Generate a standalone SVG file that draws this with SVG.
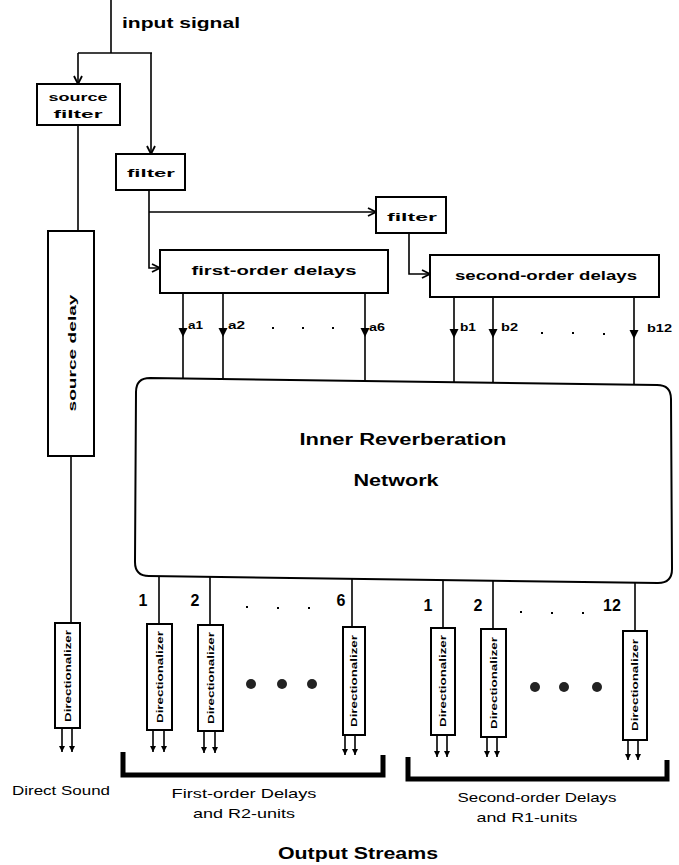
<svg xmlns="http://www.w3.org/2000/svg" width="679" height="865" viewBox="0 0 679 865">
<style>
.box{fill:#fff;stroke:#000;stroke-width:2}
.ln{fill:none;stroke:#000;stroke-width:1.6}
.t{font-family:"Liberation Sans",Arial,sans-serif;font-weight:bold;fill:#000}
.n{font-family:"Liberation Sans",Arial,sans-serif;fill:#000}
.br{fill:none;stroke:#000;stroke-width:5}
.dot{fill:#000}
.big{fill:#222}
</style>
<defs>
<marker id="chev" viewBox="0 0 10 10" refX="9" refY="5" markerWidth="10" markerHeight="10" markerUnits="userSpaceOnUse" orient="auto">
<path d="M1,1 L9,5 L1,9" fill="none" stroke="#000" stroke-width="1.8"/>
</marker>
<marker id="tri" viewBox="0 0 10 10" refX="10" refY="5" markerWidth="9" markerHeight="11" markerUnits="userSpaceOnUse" orient="auto">
<path d="M0,0 L10,5 L0,10 Z" fill="#000"/>
</marker>
<marker id="sm" viewBox="0 0 10 10" refX="10" refY="5" markerWidth="6" markerHeight="6" markerUnits="userSpaceOnUse" orient="auto">
<path d="M0,0 L10,5 L0,10 Z" fill="#000"/>
</marker>
</defs>

<g id="connectors">
<path class="ln" d="M111,0 L111,53"/>
<path class="ln" d="M78,53 L152,53"/>
<path class="ln" d="M78,53 L78,84" marker-end="url(#chev)"/>
<path class="ln" d="M151,53 L151,154" marker-end="url(#chev)"/>
<path class="ln" d="M78,125 L78,231"/>
<path class="ln" d="M71,456 L71,623"/>
<path class="ln" d="M149,190 L149,268 L160,268" marker-end="url(#chev)"/>
<path class="ln" d="M149,212 L376,212" marker-end="url(#chev)"/>
<path class="ln" d="M409,233 L409,274 L430,274" marker-end="url(#chev)"/>
<path class="ln" d="M183,291 L183,337 L183,379" marker-mid="url(#tri)"/>
<path class="ln" d="M223,291 L223,337 L223,379" marker-mid="url(#tri)"/>
<path class="ln" d="M365,293 L365,337 L365,381" marker-mid="url(#tri)"/>
<path class="ln" d="M454,297 L454,338 L454,382" marker-mid="url(#tri)"/>
<path class="ln" d="M493,297 L493,338 L493,383" marker-mid="url(#tri)"/>
<path class="ln" d="M634,297 L634,339 L634,385" marker-mid="url(#tri)"/>
<path class="ln" d="M159,576 L159,624"/>
<path class="ln" d="M210,577 L210,625"/>
<path class="ln" d="M352,579 L352,627"/>
<path class="ln" d="M443,580 L443,628"/>
<path class="ln" d="M493,581 L493,629"/>
<path class="ln" d="M635,583 L635,631"/>
<path class="ln" d="M62,728 L62,752" marker-end="url(#sm)"/>
<path class="ln" d="M72,728 L72,752" marker-end="url(#sm)"/>
<path class="ln" d="M153,730 L153,752" marker-end="url(#sm)"/>
<path class="ln" d="M164,730 L164,752" marker-end="url(#sm)"/>
<path class="ln" d="M204,731 L204,753" marker-end="url(#sm)"/>
<path class="ln" d="M215,731 L215,753" marker-end="url(#sm)"/>
<path class="ln" d="M345,735 L345,755" marker-end="url(#sm)"/>
<path class="ln" d="M355,735 L355,755" marker-end="url(#sm)"/>
<path class="ln" d="M437,735 L437,757" marker-end="url(#sm)"/>
<path class="ln" d="M447,735 L447,757" marker-end="url(#sm)"/>
<path class="ln" d="M487,737 L487,757" marker-end="url(#sm)"/>
<path class="ln" d="M497,737 L497,757" marker-end="url(#sm)"/>
<path class="ln" d="M628,740 L628,760" marker-end="url(#sm)"/>
<path class="ln" d="M638,740 L638,760" marker-end="url(#sm)"/>
</g>

<text class="t" x="122" y="28" font-size="15" textLength="118" lengthAdjust="spacingAndGlyphs">input signal</text>

<g id="source-filter">
<rect class="box" x="37" y="84" width="83" height="41"/>
<text class="t" x="78" y="101" font-size="11" text-anchor="middle" textLength="59" lengthAdjust="spacingAndGlyphs">source</text>
<text class="t" x="78" y="118" font-size="11" text-anchor="middle" textLength="49" lengthAdjust="spacingAndGlyphs">filter</text>
</g>

<g id="filter1">
<rect class="box" x="116" y="154" width="69" height="36"/>
<text class="t" x="151" y="177" font-size="11" text-anchor="middle" textLength="48" lengthAdjust="spacingAndGlyphs">filter</text>
</g>

<g id="filter2">
<rect class="box" x="376" y="197" width="70" height="36"/>
<text class="t" x="412" y="221" font-size="11" text-anchor="middle" textLength="50" lengthAdjust="spacingAndGlyphs">filter</text>
</g>

<g id="source-delay">
<rect class="box" x="48" y="231" width="46" height="225"/>
<text class="t" transform="translate(76,353) rotate(-90)" x="0" y="0" font-size="11" text-anchor="middle" textLength="117" lengthAdjust="spacingAndGlyphs">source delay</text>
</g>

<g id="first-order-delays">
<rect class="box" x="160" y="250" width="228" height="43"/>
<text class="t" x="274" y="275" font-size="12" text-anchor="middle" textLength="165" lengthAdjust="spacingAndGlyphs">first-order delays</text>
</g>

<g id="second-order-delays">
<rect class="box" x="430" y="255" width="229" height="42"/>
<text class="t" x="546" y="280" font-size="12" text-anchor="middle" textLength="182" lengthAdjust="spacingAndGlyphs">second-order delays</text>
</g>

<g id="tap-labels">
<text class="t" x="188" y="329" font-size="11" textLength="15" lengthAdjust="spacingAndGlyphs">a1</text>
<text class="t" x="228" y="329" font-size="11" textLength="17" lengthAdjust="spacingAndGlyphs">a2</text>
<text class="t" x="369" y="331" font-size="11" textLength="16" lengthAdjust="spacingAndGlyphs">a6</text>
<text class="t" x="460" y="331" font-size="11" textLength="16" lengthAdjust="spacingAndGlyphs">b1</text>
<text class="t" x="501" y="331" font-size="11" textLength="17" lengthAdjust="spacingAndGlyphs">b2</text>
<text class="t" x="647" y="332" font-size="11" textLength="25" lengthAdjust="spacingAndGlyphs">b12</text>
<rect class="dot" x="272" y="327" width="2" height="2"/>
<rect class="dot" x="302" y="327" width="2" height="2"/>
<rect class="dot" x="332" y="327" width="2" height="2"/>
<rect class="dot" x="541" y="332" width="2" height="2"/>
<rect class="dot" x="572" y="332" width="2" height="2"/>
<rect class="dot" x="603" y="333" width="2" height="2"/>
</g>

<g id="inner-reverberation-network">
<path class="box" d="M150,378 L657,385 Q671,385 671,399 L672,569 Q672,583 658,583 L149,576 Q135,576 135,562 L136,392 Q136,378 150,378 Z"/>
<text class="t" x="403" y="445" font-size="16" text-anchor="middle" textLength="207" lengthAdjust="spacingAndGlyphs">Inner Reverberation</text>
<text class="t" x="396" y="486" font-size="16" text-anchor="middle" textLength="85" lengthAdjust="spacingAndGlyphs">Network</text>
</g>

<g id="output-numbers">
<text class="t" x="143" y="606" font-size="16" text-anchor="middle">1</text>
<text class="t" x="195" y="606" font-size="16" text-anchor="middle">2</text>
<text class="t" x="341" y="606" font-size="16" text-anchor="middle">6</text>
<text class="t" x="428" y="611" font-size="16" text-anchor="middle">1</text>
<text class="t" x="478" y="611" font-size="16" text-anchor="middle">2</text>
<text class="t" x="612" y="611" font-size="16" text-anchor="middle">12</text>
<rect class="dot" x="246" y="606" width="2" height="2"/>
<rect class="dot" x="277" y="607" width="2" height="2"/>
<rect class="dot" x="308" y="607" width="2" height="2"/>
<rect class="dot" x="520" y="611" width="2" height="2"/>
<rect class="dot" x="551" y="612" width="2" height="2"/>
<rect class="dot" x="582" y="612" width="2" height="2"/>
<circle class="big" cx="251" cy="684" r="5"/>
<circle class="big" cx="282" cy="684" r="5"/>
<circle class="big" cx="312" cy="684" r="5"/>
<circle class="big" cx="535" cy="687" r="5"/>
<circle class="big" cx="564" cy="687" r="5"/>
<circle class="big" cx="597" cy="687" r="5"/>
</g>

<g id="dir-direct">
<rect class="box" x="55" y="623" width="25" height="105"/>
<text class="t" transform="translate(71,676) rotate(-90)" font-size="9" text-anchor="middle" textLength="92" lengthAdjust="spacingAndGlyphs">Directionalizer</text>
</g>
<g id="dir-a1">
<rect class="box" x="147" y="624" width="25" height="106"/>
<text class="t" transform="translate(163,677) rotate(-90)" font-size="9" text-anchor="middle" textLength="92" lengthAdjust="spacingAndGlyphs">Directionalizer</text>
</g>
<g id="dir-a2">
<rect class="box" x="198" y="625" width="25" height="106"/>
<text class="t" transform="translate(214,678) rotate(-90)" font-size="9" text-anchor="middle" textLength="92" lengthAdjust="spacingAndGlyphs">Directionalizer</text>
</g>
<g id="dir-a6">
<rect class="box" x="343" y="627" width="22" height="108"/>
<text class="t" transform="translate(357,681) rotate(-90)" font-size="9" text-anchor="middle" textLength="92" lengthAdjust="spacingAndGlyphs">Directionalizer</text>
</g>
<g id="dir-b1">
<rect class="box" x="431" y="628" width="24" height="107"/>
<text class="t" transform="translate(446,681) rotate(-90)" font-size="9" text-anchor="middle" textLength="92" lengthAdjust="spacingAndGlyphs">Directionalizer</text>
</g>
<g id="dir-b2">
<rect class="box" x="481" y="629" width="25" height="108"/>
<text class="t" transform="translate(497,683) rotate(-90)" font-size="9" text-anchor="middle" textLength="92" lengthAdjust="spacingAndGlyphs">Directionalizer</text>
</g>
<g id="dir-b12">
<rect class="box" x="623" y="631" width="24" height="109"/>
<text class="t" transform="translate(638,685) rotate(-90)" font-size="9" text-anchor="middle" textLength="92" lengthAdjust="spacingAndGlyphs">Directionalizer</text>
</g>

<g id="brackets">
<path class="br" d="M123,752 L123,775 L383,775 L383,755"/>
<path class="br" d="M408,757 L408,779 L667,779 L667,760"/>
</g>

<g id="labels">
<text class="n" x="61" y="795" font-size="13" text-anchor="middle" textLength="98" lengthAdjust="spacingAndGlyphs">Direct Sound</text>
<text class="n" x="244" y="798" font-size="13" text-anchor="middle" textLength="145" lengthAdjust="spacingAndGlyphs">First-order Delays</text>
<text class="n" x="244" y="818" font-size="13" text-anchor="middle" textLength="102" lengthAdjust="spacingAndGlyphs">and R2-units</text>
<text class="n" x="537" y="802" font-size="13" text-anchor="middle" textLength="159" lengthAdjust="spacingAndGlyphs">Second-order Delays</text>
<text class="n" x="527" y="822" font-size="13" text-anchor="middle" textLength="101" lengthAdjust="spacingAndGlyphs">and R1-units</text>
<text class="t" x="358" y="859" font-size="16" text-anchor="middle" textLength="160" lengthAdjust="spacingAndGlyphs">Output Streams</text>
</g>
</svg>
